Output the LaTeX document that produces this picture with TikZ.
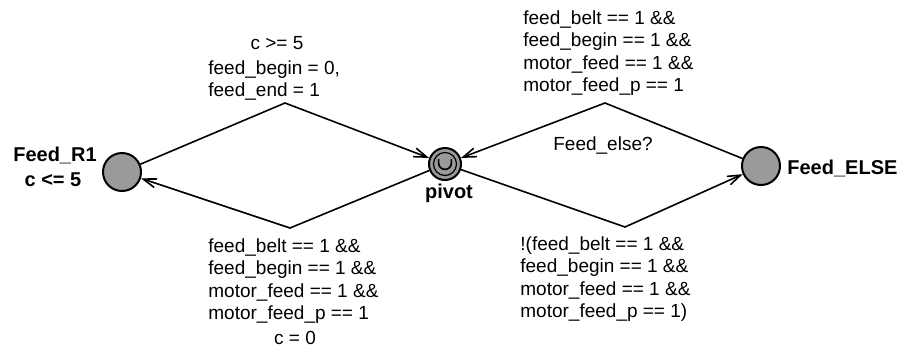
\documentclass[tikz,border=0pt]{standalone}
\usepackage{fontspec}
\setmainfont{Liberation Sans}
\usetikzlibrary{arrows.meta,calc}
\definecolor{locfill}{HTML}{9A9A9A}
\tikzset{
  loc/.style={circle, draw=black, fill=locfill, line width=1pt, minimum size=19pt, inner sep=0pt},
  locname/.style={font=\fontsize{10}{12}\selectfont\bfseries, inner sep=0pt},
  lab/.style={font=\fontsize{9.5}{11.3}\selectfont, align=left, inner sep=0pt},
  edge/.style={line width=0.8pt, -{Straight Barb[length=6.5pt,width=4.5pt]}},
}
\begin{document}
\begin{tikzpicture}[x=0.5pt, y=-0.5pt]
    \useasboundingbox (0,0) rectangle (907,360);
    % locations
    \node[loc] (r1) at (122,172) {};
    \node[loc, minimum size=16pt] (pivot) at (445,164) {};
    \node[circle, draw=black, line width=0.6pt, minimum size=11.5pt, inner sep=0pt] (pivotin) at (pivot.center) {};
    \draw[line width=0.8pt] ($(pivot.center)+(-3.2pt,2.5pt)$) -- ++(0pt,-2pt) arc[start angle=180, end angle=360, radius=3.2pt] -- ++(0pt,2pt);
    \node[loc] (else) at (761,166) {};
    % names and invariants
    \node[locname] (r1name) at (55,155) {Feed\_R1};
    \node[locname] (r1inv) at (53,180) {c <= 5};
    \node[locname] (pivotname) at (449,193) {pivot};
    \node[locname, anchor=west] (elsename) at (787,168) {Feed\_ELSE};
    % edges
    \coordinate (ul) at (285,103);
    \coordinate (ll) at (290,228);
    \coordinate (ur) at (605,103);
    \coordinate (lr) at (625,227);
    \draw[edge] (r1) -- (ul) -- (pivot);
    \draw[edge] (pivot) -- (ll) -- (r1);
    \draw[edge] (else) -- (ur) -- (pivot);
    \draw[edge] (pivot) -- (lr) -- (else);
    % guards, syncs and updates
    \node[lab] (g1) at (277,43) {c >= 5};
    \node[lab, anchor=north west] (a1) at (208,60) {feed\_begin = 0,\\feed\_end = 1};
    \node[lab, anchor=north west] (g2) at (523,10) {feed\_belt == 1 \&\&\\feed\_begin == 1 \&\&\\motor\_feed == 1 \&\&\\motor\_feed\_p == 1};
    \node[lab] (s2) at (603,145) {Feed\_else?};
    \node[lab, anchor=north west] (g3) at (208,238) {feed\_belt == 1 \&\&\\feed\_begin == 1 \&\&\\motor\_feed == 1 \&\&\\motor\_feed\_p == 1};
    \node[lab] (a3) at (295,338) {c = 0};
    \node[lab, anchor=north west] (g4) at (520,236) {!(feed\_belt == 1 \&\&\\feed\_begin == 1 \&\&\\motor\_feed == 1 \&\&\\motor\_feed\_p == 1)};
\end{tikzpicture}
\end{document}
